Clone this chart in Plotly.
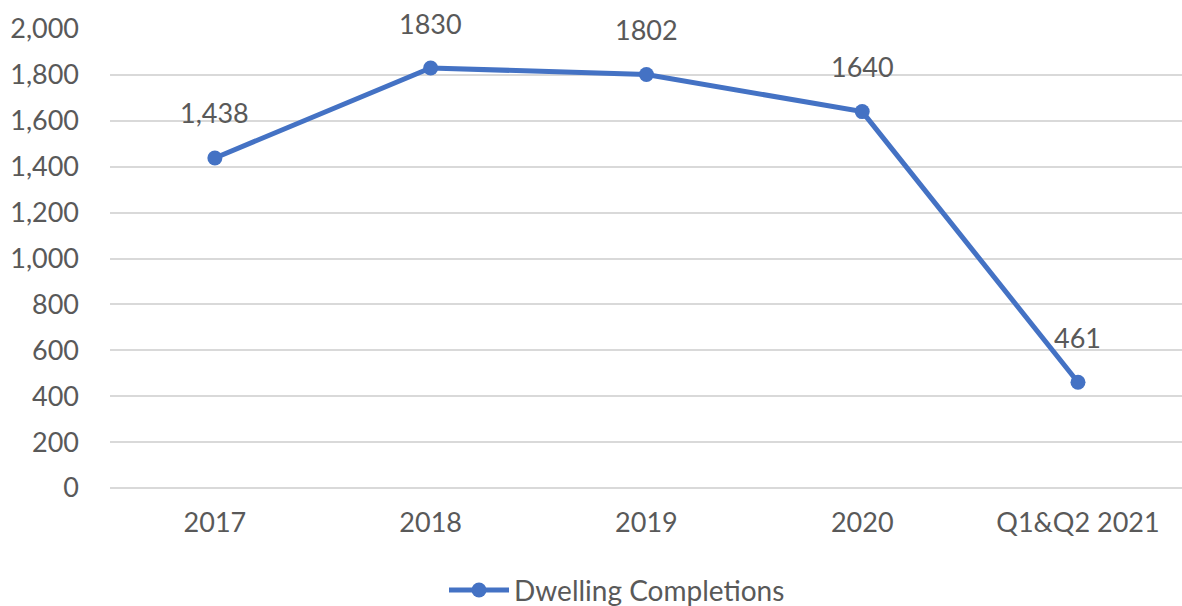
import plotly.graph_objects as go

categories = ["2017", "2018", "2019", "2020", "Q1&Q2 2021"]
values = [1438, 1830, 1802, 1640, 461]
value_labels = ["1,438", "1830", "1802", "1640", "461"]
y_ticks = [0, 200, 400, 600, 800, 1000, 1200, 1400, 1600, 1800, 2000]
series_name = "Dwelling Completions"

BLUE = "#4472C4"
GREY = "#595959"
FONT = "Lato"

fig = go.Figure()
fig.add_trace(go.Scatter(
    x=categories, y=values, mode="lines+markers", name=series_name,
    line=dict(color=BLUE, width=5),
    marker=dict(color=BLUE, size=15),
))
for i, (v, t) in enumerate(zip(values, value_labels)):
    fig.add_annotation(x=i, y=v, text=t, showarrow=False, yshift=45,
                       font=dict(family=FONT, size=27, color=GREY))

fig.update_layout(
    width=1182, height=606,
    margin=dict(l=110, r=0, t=29, b=118, autoexpand=False),
    paper_bgcolor="white", plot_bgcolor="white",
    font=dict(family=FONT, size=27, color=GREY),
    showlegend=True,
    legend=dict(orientation="h", xref="container", yref="container",
                x=0.522, xanchor="center", y=0.026, yanchor="middle",
                font=dict(family=FONT, size=28, color=GREY),
                itemwidth=60),
)
fig.update_xaxes(
    type="category", range=[-0.486, 4.482], showgrid=False, showline=False,
    zeroline=False, ticks="", ticklabelstandoff=16, automargin=False,
    tickfont=dict(family=FONT, size=27, color=GREY),
)
fig.update_yaxes(
    range=[0, 2000], tickvals=y_ticks, tickformat=",d",
    showgrid=True, gridcolor="#d9d9d9", gridwidth=2,
    zeroline=True, zerolinecolor="#d9d9d9", zerolinewidth=2,
    showline=False, ticks="", ticklabelstandoff=30, automargin=False,
    tickfont=dict(family=FONT, size=27, color=GREY),
)

fig.write_html(
    "out.html",
    config={"displayModeBar": False},
    post_script="document.body.style.margin='0';document.body.style.overflow='hidden';",
)
